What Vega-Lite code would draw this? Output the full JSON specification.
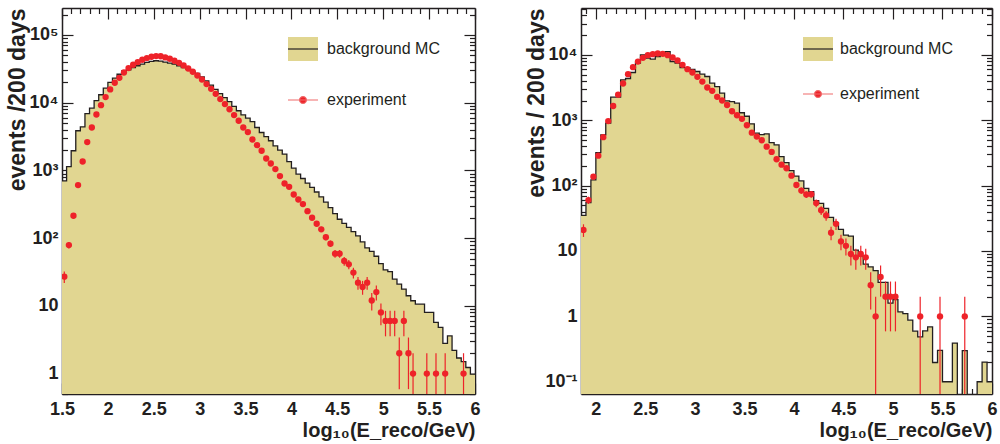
{
"$schema": "https://vega.github.io/schema/vega-lite/v6.json",
"background": "white",
"padding": {"left": 6, "top": 7, "right": 6, "bottom": 2},
"spacing": 44,
"config": {
  "font": "Liberation Sans",
  "view": {"stroke": null},
  "axis": {"labelFont": "Liberation Sans", "labelFontWeight": "bold", "labelFontSize": 18, "labelColor": "#231f20", "titleFont": "Liberation Sans", "titleFontWeight": "bold", "titleColor": "#231f20", "tickColor": "#231f20", "domainColor": "#231f20", "grid": false, "labelFlush": false, "labelOverlap": false, "labelBound": false, "tickWidth": 1.2, "domainWidth": 1.5}
},
"datasets": {
"leftHist": [
{"lo":1.5,"hi":1.55,"n":700},{"lo":1.55,"hi":1.6,"n":1140},{"lo":1.6,"hi":1.65,"n":1950},{"lo":1.65,"hi":1.7,"n":3850},{"lo":1.7,"hi":1.75,"n":4400},
{"lo":1.75,"hi":1.8,"n":6900},{"lo":1.8,"hi":1.85,"n":8300},{"lo":1.85,"hi":1.9,"n":10700},{"lo":1.9,"hi":1.95,"n":13100},{"lo":1.95,"hi":2.0,"n":16400},
{"lo":2.0,"hi":2.05,"n":19900},{"lo":2.05,"hi":2.1,"n":23100},{"lo":2.1,"hi":2.15,"n":26300},{"lo":2.15,"hi":2.2,"n":29500},{"lo":2.2,"hi":2.25,"n":30600},
{"lo":2.25,"hi":2.3,"n":33100},{"lo":2.3,"hi":2.35,"n":35100},{"lo":2.35,"hi":2.4,"n":37100},{"lo":2.4,"hi":2.45,"n":39300},{"lo":2.45,"hi":2.5,"n":40700},
{"lo":2.5,"hi":2.55,"n":41600},{"lo":2.55,"hi":2.6,"n":41100},{"lo":2.6,"hi":2.65,"n":39800},{"lo":2.65,"hi":2.7,"n":38500},{"lo":2.7,"hi":2.75,"n":37200},
{"lo":2.75,"hi":2.8,"n":35100},{"lo":2.8,"hi":2.85,"n":33100},{"lo":2.85,"hi":2.9,"n":31300},{"lo":2.9,"hi":2.95,"n":28900},{"lo":2.95,"hi":3.0,"n":27000},
{"lo":3.0,"hi":3.05,"n":24000},{"lo":3.05,"hi":3.1,"n":21000},{"lo":3.1,"hi":3.15,"n":18200},{"lo":3.15,"hi":3.2,"n":15700},{"lo":3.2,"hi":3.25,"n":13600},
{"lo":3.25,"hi":3.3,"n":11900},{"lo":3.3,"hi":3.35,"n":10400},{"lo":3.35,"hi":3.4,"n":8800},{"lo":3.4,"hi":3.45,"n":7600},{"lo":3.45,"hi":3.5,"n":6600},
{"lo":3.5,"hi":3.55,"n":5900},{"lo":3.55,"hi":3.6,"n":5270},{"lo":3.6,"hi":3.65,"n":4300},{"lo":3.65,"hi":3.7,"n":3630},{"lo":3.7,"hi":3.75,"n":3150},
{"lo":3.75,"hi":3.8,"n":2740},{"lo":3.8,"hi":3.85,"n":2300},{"lo":3.85,"hi":3.9,"n":2000},{"lo":3.9,"hi":3.95,"n":1740},{"lo":3.95,"hi":4.0,"n":1350},
{"lo":4.0,"hi":4.05,"n":1080},{"lo":4.05,"hi":4.1,"n":881},{"lo":4.1,"hi":4.15,"n":760},{"lo":4.15,"hi":4.2,"n":650},{"lo":4.2,"hi":4.25,"n":560},
{"lo":4.25,"hi":4.3,"n":480},{"lo":4.3,"hi":4.35,"n":408},{"lo":4.35,"hi":4.4,"n":340},{"lo":4.4,"hi":4.45,"n":283},{"lo":4.45,"hi":4.5,"n":230},
{"lo":4.5,"hi":4.55,"n":190},{"lo":4.55,"hi":4.6,"n":165},{"lo":4.6,"hi":4.65,"n":144},{"lo":4.65,"hi":4.7,"n":125},{"lo":4.7,"hi":4.75,"n":108},
{"lo":4.75,"hi":4.8,"n":88},{"lo":4.8,"hi":4.85,"n":72},{"lo":4.85,"hi":4.9,"n":64},{"lo":4.9,"hi":4.95,"n":54},{"lo":4.95,"hi":5.0,"n":42},
{"lo":5.0,"hi":5.05,"n":34},{"lo":5.05,"hi":5.1,"n":32},{"lo":5.1,"hi":5.15,"n":24.8},{"lo":5.15,"hi":5.2,"n":20.9},{"lo":5.2,"hi":5.25,"n":17.7},
{"lo":5.25,"hi":5.3,"n":14.1},{"lo":5.3,"hi":5.35,"n":11.9},{"lo":5.35,"hi":5.4,"n":10.6},{"lo":5.4,"hi":5.45,"n":10.6},{"lo":5.45,"hi":5.5,"n":8.0},
{"lo":5.5,"hi":5.55,"n":8.0},{"lo":5.55,"hi":5.6,"n":5.7},{"lo":5.6,"hi":5.65,"n":4.8},{"lo":5.65,"hi":5.7,"n":2.8},{"lo":5.7,"hi":5.75,"n":3.6},
{"lo":5.75,"hi":5.8,"n":2.2},{"lo":5.8,"hi":5.85,"n":1.7},{"lo":5.85,"hi":5.9,"n":1.5},{"lo":5.9,"hi":5.95,"n":1.23},{"lo":5.95,"hi":6.0,"n":0.98}
],
"leftExp": [
{"x":1.525,"n":27,"elo":21.8,"ehi":32.2},{"x":1.575,"n":79,"elo":70.1,"ehi":87.9},{"x":1.625,"n":214,"elo":199.4,"ehi":228.6},{"x":1.675,"n":607,"elo":582,"ehi":632},{"x":1.725,"n":1355,"elo":1318,"ehi":1392},
{"x":1.775,"n":2620,"elo":2569,"ehi":2671},{"x":1.825,"n":4300,"elo":4234,"ehi":4366},{"x":1.875,"n":6700,"elo":6618,"ehi":6782},{"x":1.925,"n":9200,"elo":9104,"ehi":9296},{"x":1.975,"n":12100,"elo":11990,"ehi":12210},
{"x":2.025,"n":15700,"elo":15575,"ehi":15825},{"x":2.075,"n":19700,"elo":19560,"ehi":19840},{"x":2.125,"n":23300,"elo":23147,"ehi":23453},{"x":2.175,"n":27900,"elo":27733,"ehi":28067},{"x":2.225,"n":32400,"elo":32220,"ehi":32580},
{"x":2.275,"n":36300,"elo":36110,"ehi":36490},{"x":2.325,"n":39800,"elo":39600,"ehi":40000},{"x":2.375,"n":43000,"elo":42793,"ehi":43207},{"x":2.425,"n":45600,"elo":45386,"ehi":45814},{"x":2.475,"n":47700,"elo":47482,"ehi":47918},
{"x":2.525,"n":48800,"elo":48579,"ehi":49021},{"x":2.575,"n":48500,"elo":48280,"ehi":48720},{"x":2.625,"n":46600,"elo":46384,"ehi":46816},{"x":2.675,"n":44500,"elo":44289,"ehi":44711},{"x":2.725,"n":41600,"elo":41396,"ehi":41804},
{"x":2.775,"n":38800,"elo":38603,"ehi":38997},{"x":2.825,"n":35500,"elo":35312,"ehi":35688},{"x":2.875,"n":32000,"elo":31821,"ehi":32179},{"x":2.925,"n":28600,"elo":28431,"ehi":28769},{"x":2.975,"n":25200,"elo":25041,"ehi":25359},
{"x":3.025,"n":22000,"elo":21852,"ehi":22148},{"x":3.075,"n":18800,"elo":18663,"ehi":18937},{"x":3.125,"n":16000,"elo":15874,"ehi":16126},{"x":3.175,"n":13500,"elo":13384,"ehi":13616},{"x":3.225,"n":11300,"elo":11194,"ehi":11406},
{"x":3.275,"n":9530,"elo":9432,"ehi":9628},{"x":3.325,"n":8000,"elo":7911,"ehi":8089},{"x":3.375,"n":6560,"elo":6479,"ehi":6641},{"x":3.425,"n":5410,"elo":5336,"ehi":5484},{"x":3.475,"n":4300,"elo":4234,"ehi":4366},
{"x":3.525,"n":3680,"elo":3619,"ehi":3741},{"x":3.575,"n":2860,"elo":2807,"ehi":2913},{"x":3.625,"n":2360,"elo":2311,"ehi":2409},{"x":3.675,"n":1950,"elo":1906,"ehi":1994},{"x":3.725,"n":1500,"elo":1461,"ehi":1539},
{"x":3.775,"n":1265,"elo":1229,"ehi":1301},{"x":3.825,"n":1045,"elo":1013,"ehi":1077},{"x":3.875,"n":824,"elo":795,"ehi":853},{"x":3.925,"n":641,"elo":616,"ehi":666},{"x":3.975,"n":573,"elo":549,"ehi":597},
{"x":4.025,"n":441,"elo":420,"ehi":462},{"x":4.075,"n":372,"elo":353,"ehi":391},{"x":4.125,"n":318,"elo":300,"ehi":336},{"x":4.175,"n":250,"elo":234,"ehi":266},{"x":4.225,"n":200,"elo":186,"ehi":214},
{"x":4.275,"n":163,"elo":150,"ehi":176},{"x":4.325,"n":135,"elo":123,"ehi":147},{"x":4.375,"n":103,"elo":93,"ehi":113},{"x":4.425,"n":83,"elo":74,"ehi":92},{"x":4.475,"n":59,"elo":51.3,"ehi":66.7},
{"x":4.525,"n":59,"elo":51.3,"ehi":66.7},{"x":4.575,"n":46,"elo":39.2,"ehi":52.8},{"x":4.625,"n":41,"elo":34.6,"ehi":47.4},{"x":4.675,"n":31,"elo":25.4,"ehi":36.6},{"x":4.725,"n":22,"elo":17.3,"ehi":26.7},
{"x":4.775,"n":19,"elo":14.6,"ehi":23.4},{"x":4.825,"n":22,"elo":17.3,"ehi":26.7},{"x":4.875,"n":12,"elo":8.54,"ehi":15.46},{"x":4.925,"n":16,"elo":12,"ehi":20},{"x":4.975,"n":8,"elo":5.17,"ehi":10.83},
{"x":5.025,"n":6,"elo":3.55,"ehi":8.45},{"x":5.075,"n":6,"elo":3.55,"ehi":8.45},{"x":5.125,"n":6,"elo":3.55,"ehi":8.45},{"x":5.175,"n":2,"elo":0.59,"ehi":3.41},{"x":5.225,"n":6,"elo":3.55,"ehi":8.45},
{"x":5.275,"n":2,"elo":0.59,"ehi":3.41},{"x":5.325,"n":1,"elo":0.001,"ehi":2},{"x":5.475,"n":1,"elo":0.001,"ehi":2},{"x":5.575,"n":1,"elo":0.001,"ehi":2},{"x":5.675,"n":1,"elo":0.001,"ehi":2},
{"x":5.875,"n":1,"elo":0.001,"ehi":2}
],
"rightHist": [
{"lo":1.85,"hi":1.9,"n":35},{"lo":1.9,"hi":1.95,"n":55},{"lo":1.95,"hi":2.0,"n":122},{"lo":2.0,"hi":2.05,"n":319},{"lo":2.05,"hi":2.1,"n":596},
{"lo":2.1,"hi":2.15,"n":900},{"lo":2.15,"hi":2.2,"n":2250},{"lo":2.2,"hi":2.25,"n":2250},{"lo":2.25,"hi":2.3,"n":4140},{"lo":2.3,"hi":2.35,"n":4340},
{"lo":2.35,"hi":2.4,"n":5370},{"lo":2.4,"hi":2.45,"n":7450},{"lo":2.45,"hi":2.5,"n":10000},{"lo":2.5,"hi":2.55,"n":8900},{"lo":2.55,"hi":2.6,"n":8590},
{"lo":2.6,"hi":2.65,"n":9420},{"lo":2.65,"hi":2.7,"n":10840},{"lo":2.7,"hi":2.75,"n":11200},{"lo":2.75,"hi":2.8,"n":7900},{"lo":2.8,"hi":2.85,"n":7450},
{"lo":2.85,"hi":2.9,"n":6390},{"lo":2.9,"hi":2.95,"n":6390},{"lo":2.95,"hi":3.0,"n":6000},{"lo":3.0,"hi":3.05,"n":5560},{"lo":3.05,"hi":3.1,"n":5060},
{"lo":3.1,"hi":3.15,"n":4660},{"lo":3.15,"hi":3.2,"n":3680},{"lo":3.2,"hi":3.25,"n":3270},{"lo":3.25,"hi":3.3,"n":2590},{"lo":3.3,"hi":3.35,"n":1980},
{"lo":3.35,"hi":3.4,"n":1930},{"lo":3.4,"hi":3.45,"n":1820},{"lo":3.45,"hi":3.5,"n":1300},{"lo":3.5,"hi":3.55,"n":1150},{"lo":3.55,"hi":3.6,"n":880},
{"lo":3.6,"hi":3.65,"n":633},{"lo":3.65,"hi":3.7,"n":600},{"lo":3.7,"hi":3.75,"n":620},{"lo":3.75,"hi":3.8,"n":454},{"lo":3.8,"hi":3.85,"n":419},
{"lo":3.85,"hi":3.9,"n":277},{"lo":3.9,"hi":3.95,"n":224},{"lo":3.95,"hi":4.0,"n":169},{"lo":4.0,"hi":4.05,"n":140},{"lo":4.05,"hi":4.1,"n":118},
{"lo":4.1,"hi":4.15,"n":91},{"lo":4.15,"hi":4.2,"n":81},{"lo":4.2,"hi":4.25,"n":58.8},{"lo":4.25,"hi":4.3,"n":53.6},{"lo":4.3,"hi":4.35,"n":44.9},
{"lo":4.35,"hi":4.4,"n":32.7},{"lo":4.4,"hi":4.45,"n":27},{"lo":4.45,"hi":4.5,"n":21.4},{"lo":4.5,"hi":4.55,"n":17.5},{"lo":4.55,"hi":4.6,"n":16.9},
{"lo":4.6,"hi":4.65,"n":10.3},{"lo":4.65,"hi":4.7,"n":8.4},{"lo":4.7,"hi":4.75,"n":6.3},{"lo":4.75,"hi":4.8,"n":5.7},{"lo":4.8,"hi":4.85,"n":5.0},
{"lo":4.85,"hi":4.9,"n":3.3},{"lo":4.9,"hi":4.95,"n":3.3},{"lo":4.95,"hi":5.0,"n":1.6},{"lo":5.0,"hi":5.05,"n":1.8},{"lo":5.05,"hi":5.1,"n":1.17},
{"lo":5.1,"hi":5.15,"n":1.1},{"lo":5.15,"hi":5.2,"n":0.875},{"lo":5.2,"hi":5.25,"n":0.593},{"lo":5.25,"hi":5.3,"n":0.486},{"lo":5.3,"hi":5.35,"n":0.6},
{"lo":5.35,"hi":5.4,"n":0.69},{"lo":5.4,"hi":5.45,"n":0.197},{"lo":5.45,"hi":5.5,"n":0.303},{"lo":5.5,"hi":5.55,"n":0.1},{"lo":5.55,"hi":5.6,"n":0.1},
{"lo":5.6,"hi":5.65,"n":0.39},{"lo":5.65,"hi":5.7,"n":0.001},{"lo":5.7,"hi":5.75,"n":0.3},{"lo":5.75,"hi":5.8,"n":0.001},{"lo":5.8,"hi":5.85,"n":0.001},
{"lo":5.85,"hi":5.9,"n":0.1},{"lo":5.9,"hi":5.95,"n":0.2},{"lo":5.95,"hi":6.0,"n":0.1}
],
"rightExp": [
{"x":1.875,"n":21,"elo":16.4,"ehi":25.6},{"x":1.925,"n":60,"elo":52.3,"ehi":67.7},{"x":1.975,"n":137,"elo":125.3,"ehi":148.7},{"x":2.025,"n":287,"elo":270,"ehi":304},{"x":2.075,"n":550,"elo":527,"ehi":574},
{"x":2.125,"n":970,"elo":939,"ehi":1001},{"x":2.175,"n":1650,"elo":1609,"ehi":1691},{"x":2.225,"n":2460,"elo":2410,"ehi":2510},{"x":2.275,"n":3640,"elo":3580,"ehi":3700},{"x":2.325,"n":5060,"elo":4989,"ehi":5131},
{"x":2.375,"n":6470,"elo":6390,"ehi":6550},{"x":2.425,"n":7890,"elo":7801,"ehi":7979},{"x":2.475,"n":8990,"elo":8895,"ehi":9085},{"x":2.525,"n":9890,"elo":9791,"ehi":9989},{"x":2.575,"n":10240,"elo":10139,"ehi":10341},
{"x":2.625,"n":10470,"elo":10368,"ehi":10572},{"x":2.675,"n":10350,"elo":10248,"ehi":10452},{"x":2.725,"n":9890,"elo":9791,"ehi":9989},{"x":2.775,"n":9100,"elo":9005,"ehi":9195},{"x":2.825,"n":8180,"elo":8090,"ehi":8270},
{"x":2.875,"n":7030,"elo":6946,"ehi":7114},{"x":2.925,"n":6040,"elo":5962,"ehi":6118},{"x":2.975,"n":5360,"elo":5287,"ehi":5433},{"x":3.025,"n":4600,"elo":4532,"ehi":4668},{"x":3.075,"n":3900,"elo":3838,"ehi":3962},
{"x":3.125,"n":3160,"elo":3104,"ehi":3216},{"x":3.175,"n":2810,"elo":2757,"ehi":2863},{"x":3.225,"n":2280,"elo":2232,"ehi":2328},{"x":3.275,"n":2000,"elo":1955,"ehi":2045},{"x":3.325,"n":1710,"elo":1669,"ehi":1751},
{"x":3.375,"n":1370,"elo":1333,"ehi":1407},{"x":3.425,"n":1190,"elo":1156,"ehi":1224},{"x":3.475,"n":1050,"elo":1018,"ehi":1082},{"x":3.525,"n":838,"elo":809,"ehi":867},{"x":3.575,"n":645,"elo":620,"ehi":670},
{"x":3.625,"n":561,"elo":537,"ehi":585},{"x":3.675,"n":494,"elo":472,"ehi":516},{"x":3.725,"n":394,"elo":374,"ehi":414},{"x":3.775,"n":327,"elo":309,"ehi":345},{"x":3.825,"n":253,"elo":237,"ehi":269},
{"x":3.875,"n":209,"elo":194.5,"ehi":223.5},{"x":3.925,"n":184,"elo":170.4,"ehi":197.6},{"x":3.975,"n":142,"elo":130.1,"ehi":153.9},{"x":4.025,"n":102,"elo":91.9,"ehi":112.1},{"x":4.075,"n":84,"elo":74.8,"ehi":93.2},
{"x":4.125,"n":73,"elo":64.5,"ehi":81.5},{"x":4.175,"n":74,"elo":65.4,"ehi":82.6},{"x":4.225,"n":54,"elo":46.7,"ehi":61.3},{"x":4.275,"n":42,"elo":35.5,"ehi":48.5},{"x":4.325,"n":35,"elo":29.1,"ehi":40.9},
{"x":4.375,"n":19,"elo":14.6,"ehi":23.4},{"x":4.425,"n":26,"elo":20.9,"ehi":31.1},{"x":4.475,"n":14,"elo":10.3,"ehi":17.7},{"x":4.525,"n":12,"elo":8.5,"ehi":15.5},{"x":4.575,"n":9,"elo":6,"ehi":12},
{"x":4.625,"n":8,"elo":5.17,"ehi":10.83},{"x":4.675,"n":9,"elo":6,"ehi":12},{"x":4.725,"n":8,"elo":5.17,"ehi":10.83},{"x":4.775,"n":3,"elo":1.27,"ehi":4.73},{"x":4.825,"n":1,"elo":0.001,"ehi":2},
{"x":4.875,"n":4,"elo":2,"ehi":6},{"x":4.925,"n":2,"elo":0.59,"ehi":3.41},{"x":4.975,"n":2,"elo":0.59,"ehi":3.41},{"x":5.025,"n":2,"elo":0.59,"ehi":3.41},{"x":5.275,"n":1,"elo":0.001,"ehi":2},
{"x":5.475,"n":1,"elo":0.001,"ehi":2},{"x":5.725,"n":1,"elo":0.001,"ehi":2}
]
},
"resolve": {"scale": {"color": "independent", "shape": "independent", "stroke": "independent"}, "legend": {"color": "independent", "shape": "independent", "stroke": "independent"}},
"hconcat": [
{
 "width": 413, "height": 386,
 "resolve": {"axis": {"x": "independent", "y": "independent"}},
 "layer": [
  {
   "data": {"name": "leftHist"},
   "transform": [{"fold": ["lo", "hi"], "as": ["edge", "e"]}],
   "mark": {"type": "area", "color": "#e1d691", "clip": true, "interpolate": "linear"},
   "encoding": {
    "x": {"field": "e", "type": "quantitative", "scale": {"domain": [1.5, 6], "nice": false, "zero": false},
          "axis": {"orient": "bottom", "values": [1.5,2,2.5,3,3.5,4,4.5,5,5.5,6], "format": "~g", "tickSize": -11, "labelPadding": 17, "title": "log₁₀(E_reco/GeV)", "titleAnchor": "end", "titleFontSize": 20, "titlePadding": 2}},
    "y": {"field": "n", "type": "quantitative", "scale": {"type": "log", "domain": [0.5, 250000], "nice": false},
          "axis": {"orient": "left", "values": [1,10,100,1000,10000,100000], "tickSize": -11, "labelPadding": 15, "labelExpr": "datum.value >= 99999 ? '10⁵' : datum.value >= 9999 ? '10⁴' : datum.value >= 999 ? '10³' : datum.value >= 99 ? '10²' : datum.value >= 9.9 ? '10' : datum.value >= 0.99 ? '1' : '10⁻¹'", "title": "events /200 days", "titleAnchor": "end", "titleFontSize": 23, "titlePadding": 0}},
    "y2": {"datum": 0.001}
   }
  },
  {
   "data": {"name": "leftHist"},
   "transform": [{"fold": ["lo", "hi"], "as": ["edge", "e"]}],
   "mark": {"type": "line", "color": "#231f20", "strokeWidth": 1.3, "clip": true},
   "encoding": {
    "x": {"field": "e", "type": "quantitative", "scale": {"domain": [1.5, 6], "nice": false, "zero": false},
          "axis": {"orient": "bottom", "values": [1.6,1.7,1.8,1.9,2.1,2.2,2.3,2.4,2.6,2.7,2.8,2.9,3.1,3.2,3.3,3.4,3.6,3.7,3.8,3.9,4.1,4.2,4.3,4.4,4.6,4.7,4.8,4.9,5.1,5.2,5.3,5.4,5.6,5.7,5.8,5.9], "tickSize": -5.5, "labels": false, "domain": false, "title": null}},
    "y": {"field": "n", "type": "quantitative", "scale": {"type": "log", "domain": [0.5, 250000], "nice": false},
          "axis": {"orient": "left", "values": [0.5,0.6,0.7,0.8,0.9,2,3,4,5,6,7,8,9,20,30,40,50,60,70,80,90,200,300,400,500,600,700,800,900,2000,3000,4000,5000,6000,7000,8000,9000,20000,30000,40000,50000,60000,70000,80000,90000,200000], "tickSize": -5.5, "labels": false, "domain": false, "title": null}}
   }
  },
  {
   "data": {"name": "leftExp"},
   "mark": {"type": "rule", "color": "#ee2229", "strokeWidth": 1.2, "clip": true},
   "encoding": {
    "x": {"field": "x", "type": "quantitative", "scale": {"domain": [1.5, 6], "nice": false, "zero": false},
          "axis": {"orient": "top", "values": [1.5,2,2.5,3,3.5,4,4.5,5,5.5,6], "tickSize": -11, "labels": false, "title": null}},
    "y": {"field": "elo", "type": "quantitative", "scale": {"type": "log", "domain": [0.5, 250000], "nice": false},
          "axis": {"orient": "right", "values": [1,10,100,1000,10000,100000], "tickSize": -11, "labels": false, "title": null}},
    "y2": {"field": "ehi"}
   }
  },
  {
   "data": {"name": "leftExp"},
   "mark": {"type": "point", "filled": true, "size": 40, "opacity": 1, "clip": true, "shape": "circle", "color": "#ee2229"},
   "encoding": {
    "x": {"field": "x", "type": "quantitative", "scale": {"domain": [1.5, 6], "nice": false, "zero": false},
          "axis": {"orient": "top", "values": [1.6,1.7,1.8,1.9,2.1,2.2,2.3,2.4,2.6,2.7,2.8,2.9,3.1,3.2,3.3,3.4,3.6,3.7,3.8,3.9,4.1,4.2,4.3,4.4,4.6,4.7,4.8,4.9,5.1,5.2,5.3,5.4,5.6,5.7,5.8,5.9], "tickSize": -5.5, "labels": false, "domain": false, "title": null}},
    "y": {"field": "n", "type": "quantitative", "scale": {"type": "log", "domain": [0.5, 250000], "nice": false},
          "axis": {"orient": "right", "values": [0.5,0.6,0.7,0.8,0.9,2,3,4,5,6,7,8,9,20,30,40,50,60,70,80,90,200,300,400,500,600,700,800,900,2000,3000,4000,5000,6000,7000,8000,9000,20000,30000,40000,50000,60000,70000,80000,90000,200000], "tickSize": -5.5, "labels": false, "domain": false, "title": null}}
   }
  },
  {
   "data": {"values": []},
   "mark": {"type": "point", "filled": true, "opacity": 1},
   "encoding": {
    "color": {"field": "s", "type": "nominal", "scale": {"domain": ["background MC", "experiment"], "range": ["#e1d691", "#ee2229"]},
      "legend": {"title": null, "orient": "none", "legendX": 225, "legendY": 25, "padding": 0, "labelFont": "Liberation Sans", "labelFontSize": 16, "labelColor": "#231f20", "labelOffset": 8, "rowPadding": 20, "symbolSize": 900, "symbolStrokeWidth": 1.2, "symbolDash": [30, 2000], "symbolOpacity": 1}},
    "shape": {"field": "s", "type": "nominal", "scale": {"domain": ["background MC", "experiment"], "range": ["M-1,0H1V-0.8H-1V0.8H1V0Z", "M-1,0H1M0.23,0A0.23,0.23,0,1,1,-0.23,0A0.23,0.23,0,1,1,0.23,0Z"]},
      "legend": {"title": null, "orient": "none", "legendX": 225, "legendY": 25, "padding": 0, "labelFont": "Liberation Sans", "labelFontSize": 16, "labelColor": "#231f20", "labelOffset": 8, "rowPadding": 20, "symbolSize": 900, "symbolStrokeWidth": 1.2, "symbolDash": [30, 2000], "symbolOpacity": 1}},
    "stroke": {"field": "s", "type": "nominal", "scale": {"domain": ["background MC", "experiment"], "range": ["#231f20", "#f06a6a"]},
      "legend": {"title": null, "orient": "none", "legendX": 225, "legendY": 25, "padding": 0, "labelFont": "Liberation Sans", "labelFontSize": 16, "labelColor": "#231f20", "labelOffset": 8, "rowPadding": 20, "symbolSize": 900, "symbolStrokeWidth": 1.2, "symbolDash": [30, 2000], "symbolOpacity": 1}}
   }
  }
 ]
},
{
 "width": 411, "height": 386,
 "resolve": {"axis": {"x": "independent", "y": "independent"}},
 "layer": [
  {
   "data": {"name": "rightHist"},
   "transform": [{"fold": ["lo", "hi"], "as": ["edge", "e"]}],
   "mark": {"type": "area", "color": "#e1d691", "clip": true, "interpolate": "linear"},
   "encoding": {
    "x": {"field": "e", "type": "quantitative", "scale": {"domain": [1.85, 6], "nice": false, "zero": false},
          "axis": {"orient": "bottom", "values": [2,2.5,3,3.5,4,4.5,5,5.5,6], "format": "~g", "tickSize": -11, "labelPadding": 17, "title": "log₁₀(E_reco/GeV)", "titleAnchor": "end", "titleFontSize": 20, "titlePadding": 2}},
    "y": {"field": "n", "type": "quantitative", "scale": {"type": "log", "domain": [0.065, 52000], "nice": false},
          "axis": {"orient": "left", "values": [0.1,1,10,100,1000,10000], "tickSize": -11, "labelPadding": 15, "labelExpr": "datum.value >= 99999 ? '10⁵' : datum.value >= 9999 ? '10⁴' : datum.value >= 999 ? '10³' : datum.value >= 99 ? '10²' : datum.value >= 9.9 ? '10' : datum.value >= 0.99 ? '1' : '10⁻¹'", "title": "events / 200 days", "titleAnchor": "end", "titleFontSize": 23, "titlePadding": -4}},
    "y2": {"datum": 0.001}
   }
  },
  {
   "data": {"name": "rightHist"},
   "transform": [{"fold": ["lo", "hi"], "as": ["edge", "e"]}],
   "mark": {"type": "line", "color": "#231f20", "strokeWidth": 1.3, "clip": true},
   "encoding": {
    "x": {"field": "e", "type": "quantitative", "scale": {"domain": [1.85, 6], "nice": false, "zero": false},
          "axis": {"orient": "bottom", "values": [1.9,2.1,2.2,2.3,2.4,2.6,2.7,2.8,2.9,3.1,3.2,3.3,3.4,3.6,3.7,3.8,3.9,4.1,4.2,4.3,4.4,4.6,4.7,4.8,4.9,5.1,5.2,5.3,5.4,5.6,5.7,5.8,5.9], "tickSize": -5.5, "labels": false, "domain": false, "title": null}},
    "y": {"field": "n", "type": "quantitative", "scale": {"type": "log", "domain": [0.065, 52000], "nice": false},
          "axis": {"orient": "left", "values": [0.07,0.08,0.09,0.2,0.3,0.4,0.5,0.6,0.7,0.8,0.9,2,3,4,5,6,7,8,9,20,30,40,50,60,70,80,90,200,300,400,500,600,700,800,900,2000,3000,4000,5000,6000,7000,8000,9000,20000,30000,40000,50000], "tickSize": -5.5, "labels": false, "domain": false, "title": null}}
   }
  },
  {
   "data": {"name": "rightExp"},
   "mark": {"type": "rule", "color": "#ee2229", "strokeWidth": 1.2, "clip": true},
   "encoding": {
    "x": {"field": "x", "type": "quantitative", "scale": {"domain": [1.85, 6], "nice": false, "zero": false},
          "axis": {"orient": "top", "values": [2,2.5,3,3.5,4,4.5,5,5.5,6], "tickSize": -11, "labels": false, "title": null}},
    "y": {"field": "elo", "type": "quantitative", "scale": {"type": "log", "domain": [0.065, 52000], "nice": false},
          "axis": {"orient": "right", "values": [0.1,1,10,100,1000,10000], "tickSize": -11, "labels": false, "title": null}},
    "y2": {"field": "ehi"}
   }
  },
  {
   "data": {"name": "rightExp"},
   "mark": {"type": "point", "filled": true, "size": 40, "opacity": 1, "clip": true, "shape": "circle", "color": "#ee2229"},
   "encoding": {
    "x": {"field": "x", "type": "quantitative", "scale": {"domain": [1.85, 6], "nice": false, "zero": false},
          "axis": {"orient": "top", "values": [1.9,2.1,2.2,2.3,2.4,2.6,2.7,2.8,2.9,3.1,3.2,3.3,3.4,3.6,3.7,3.8,3.9,4.1,4.2,4.3,4.4,4.6,4.7,4.8,4.9,5.1,5.2,5.3,5.4,5.6,5.7,5.8,5.9], "tickSize": -5.5, "labels": false, "domain": false, "title": null}},
    "y": {"field": "n", "type": "quantitative", "scale": {"type": "log", "domain": [0.065, 52000], "nice": false},
          "axis": {"orient": "right", "values": [0.07,0.08,0.09,0.2,0.3,0.4,0.5,0.6,0.7,0.8,0.9,2,3,4,5,6,7,8,9,20,30,40,50,60,70,80,90,200,300,400,500,600,700,800,900,2000,3000,4000,5000,6000,7000,8000,9000,20000,30000,40000,50000], "tickSize": -5.5, "labels": false, "domain": false, "title": null}}
   }
  },
  {
   "data": {"values": []},
   "mark": {"type": "point", "filled": true, "opacity": 1},
   "encoding": {
    "color": {"field": "s", "type": "nominal", "scale": {"domain": ["background MC", "experiment"], "range": ["#e1d691", "#ee2229"]},
      "legend": {"title": null, "orient": "none", "legendX": 221, "legendY": 25, "padding": 0, "labelFont": "Liberation Sans", "labelFontSize": 16, "labelColor": "#231f20", "labelOffset": 6, "rowPadding": 14, "symbolSize": 900, "symbolStrokeWidth": 1.2, "symbolDash": [30, 2000], "symbolOpacity": 1}},
    "shape": {"field": "s", "type": "nominal", "scale": {"domain": ["background MC", "experiment"], "range": ["M-1,0H1V-0.8H-1V0.8H1V0Z", "M-1,0H1M0.23,0A0.23,0.23,0,1,1,-0.23,0A0.23,0.23,0,1,1,0.23,0Z"]},
      "legend": {"title": null, "orient": "none", "legendX": 221, "legendY": 25, "padding": 0, "labelFont": "Liberation Sans", "labelFontSize": 16, "labelColor": "#231f20", "labelOffset": 6, "rowPadding": 14, "symbolSize": 900, "symbolStrokeWidth": 1.2, "symbolDash": [30, 2000], "symbolOpacity": 1}},
    "stroke": {"field": "s", "type": "nominal", "scale": {"domain": ["background MC", "experiment"], "range": ["#231f20", "#f06a6a"]},
      "legend": {"title": null, "orient": "none", "legendX": 221, "legendY": 25, "padding": 0, "labelFont": "Liberation Sans", "labelFontSize": 16, "labelColor": "#231f20", "labelOffset": 6, "rowPadding": 14, "symbolSize": 900, "symbolStrokeWidth": 1.2, "symbolDash": [30, 2000], "symbolOpacity": 1}}
   }
  }
 ]
}
]
}
